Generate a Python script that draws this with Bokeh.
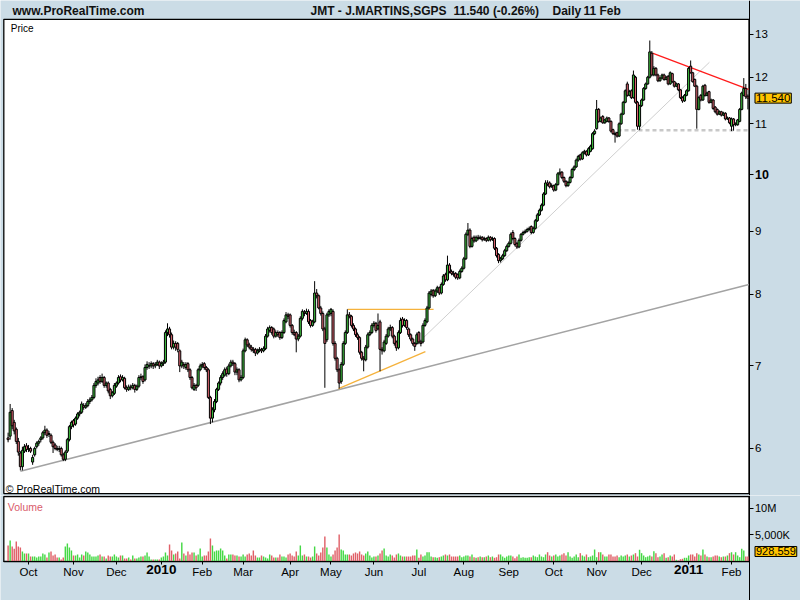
import pandas as pd
from bokeh.plotting import figure
from bokeh.layouts import column
from bokeh.models import Range1d, FixedTicker, Label, ColumnDataSource
from bokeh.embed import file_html
from bokeh.resources import INLINE

# ---------------- data (daily bars, JMT, 17 Sep 2009 .. 11 Feb 2011) ----------------
opens = [
6.12,6.14,6.44,6.30,6.22,6.08,5.95,5.80,5.97,6.03,
5.99,6.00,5.85,5.93,6.02,6.06,6.10,6.12,6.18,6.21,
6.16,6.15,6.07,6.04,6.00,5.99,6.00,5.93,5.88,5.97,
6.10,6.25,6.32,6.28,6.35,6.40,6.42,6.50,6.48,6.50,
6.55,6.57,6.60,6.75,6.78,6.85,6.80,6.85,6.75,6.78,
6.70,6.62,6.65,6.74,6.78,6.86,6.82,6.84,6.72,6.70,
6.73,6.72,6.75,6.70,6.74,6.85,6.86,6.82,6.98,7.00,
7.00,7.03,7.00,7.02,7.05,7.00,7.03,7.05,7.45,7.50,
7.42,7.25,7.30,7.30,7.20,7.00,7.02,6.98,7.03,6.95,
6.85,6.70,6.75,6.75,6.95,7.00,7.03,6.98,6.95,6.60,
6.35,6.45,6.55,6.70,6.78,6.85,6.88,6.96,6.90,7.00,
7.05,7.03,6.92,6.95,6.82,6.85,7.20,7.35,7.28,7.25,
7.22,7.22,7.17,7.20,7.22,7.20,7.23,7.40,7.48,7.52,
7.50,7.40,7.45,7.45,7.38,7.45,7.60,7.70,7.70,7.55,
7.45,7.45,7.36,7.40,7.65,7.74,7.72,7.75,7.62,7.55,
7.60,8.02,7.98,7.80,7.72,7.50,7.35,7.70,7.72,7.75,
7.30,7.10,6.95,6.80,7.02,7.30,7.45,7.70,7.68,7.55,
7.50,7.42,7.38,7.18,7.10,7.08,7.25,7.42,7.45,7.55,
7.58,7.50,7.60,7.22,7.20,7.30,7.40,7.50,7.52,7.40,
7.32,7.24,7.45,7.64,7.55,7.62,7.50,7.42,7.36,7.30,
7.30,7.45,7.32,7.32,7.55,7.60,7.80,8.00,8.06,7.98,
8.05,8.10,8.02,8.15,8.30,8.22,8.45,8.35,8.32,8.32,
8.30,8.25,8.35,8.40,8.55,8.95,9.02,8.75,8.90,8.84,
8.90,8.88,8.90,8.86,8.88,8.85,8.90,8.86,8.88,8.72,
8.62,8.52,8.55,8.60,8.68,8.75,8.80,8.98,8.88,8.80,
8.74,8.85,8.95,8.98,9.00,9.03,9.08,8.98,9.05,9.18,
9.28,9.36,9.45,9.65,9.85,9.85,9.78,9.80,9.72,9.82,
10.02,10.05,9.95,9.88,9.80,9.86,9.95,10.10,10.15,10.28,
10.38,10.30,10.42,10.45,10.38,10.45,10.50,10.80,10.90,11.30,
11.05,11.15,11.02,11.05,11.12,11.05,10.88,10.80,10.82,10.75,
11.00,11.20,11.45,11.85,11.60,11.70,11.55,12.00,11.45,10.95,
11.38,11.50,11.75,11.85,12.00,12.55,12.05,12.20,12.05,11.92,
11.98,12.05,11.95,12.02,11.85,12.08,11.90,11.80,11.85,11.72,
11.55,11.48,11.60,11.70,12.25,12.10,11.95,11.80,11.30,11.60,
11.50,11.82,11.60,11.68,11.45,11.50,11.35,11.30,11.20,11.25,
11.18,11.22,11.10,11.12,10.95,11.10,10.98,10.98,11.05,11.30,
11.60,11.75,11.58]

highs = [
6.18,6.52,6.47,6.33,6.24,6.12,5.97,6.02,6.05,6.06,
6.04,6.02,5.93,6.02,6.08,6.10,6.14,6.20,6.26,6.23,
6.20,6.17,6.09,6.06,6.03,6.03,6.02,5.95,5.98,6.12,
6.27,6.32,6.34,6.37,6.42,6.44,6.55,6.53,6.53,6.58,
6.60,6.63,6.78,6.84,6.86,6.88,6.90,6.87,6.80,6.80,
6.72,6.68,6.78,6.80,6.88,6.89,6.88,6.86,6.75,6.76,
6.76,6.78,6.77,6.76,6.88,6.90,6.88,7.02,7.06,7.05,
7.06,7.05,7.05,7.08,7.07,7.06,7.08,7.48,7.58,7.53,
7.45,7.34,7.33,7.32,7.22,7.08,7.05,7.05,7.05,6.97,
6.87,6.78,6.77,6.97,7.03,7.05,7.05,7.00,6.97,6.62,
6.48,6.58,6.72,6.80,6.88,6.93,6.98,6.99,7.03,7.08,
7.08,7.05,6.98,6.97,6.88,7.23,7.38,7.37,7.31,7.28,
7.25,7.24,7.23,7.25,7.24,7.26,7.43,7.53,7.55,7.54,
7.52,7.48,7.48,7.47,7.48,7.65,7.74,7.73,7.72,7.57,
7.49,7.47,7.43,7.68,7.78,7.77,7.79,7.78,7.64,7.63,
8.20,8.08,8.00,7.83,7.75,7.53,7.73,7.78,7.80,7.78,
7.33,7.12,6.97,7.05,7.33,7.48,7.78,7.74,7.70,7.58,
7.52,7.45,7.40,7.20,7.13,7.28,7.45,7.48,7.58,7.61,
7.60,7.72,7.63,7.25,7.35,7.43,7.53,7.56,7.54,7.42,
7.34,7.48,7.66,7.67,7.65,7.64,7.52,7.44,7.38,7.32,
7.45,7.47,7.35,7.58,7.65,7.83,8.05,8.08,8.08,8.08,
8.13,8.12,8.18,8.31,8.33,8.60,8.48,8.38,8.36,8.34,
8.32,8.38,8.43,8.58,8.98,9.14,9.05,8.91,8.93,8.93,
8.94,8.93,8.92,8.91,8.90,8.93,8.92,8.91,8.90,8.74,
8.64,8.58,8.63,8.71,8.78,8.83,8.98,9.02,8.90,8.82,
8.88,8.97,9.01,9.03,9.06,9.08,9.10,9.08,9.21,9.31,
9.39,9.48,9.68,9.90,9.90,9.88,9.84,9.82,9.85,10.05,
10.12,10.07,9.97,9.90,9.89,9.98,10.13,10.18,10.31,10.38,
10.40,10.45,10.48,10.47,10.53,10.58,10.83,10.89,11.50,11.33,
11.15,11.18,11.10,11.15,11.14,11.07,10.90,10.84,10.84,11.03,
11.23,11.48,11.73,11.90,11.72,11.73,12.15,12.03,11.48,11.40,
11.53,11.78,11.88,12.03,12.85,12.60,12.25,12.23,12.08,12.01,
12.08,12.08,12.03,12.05,12.13,12.10,11.92,11.88,11.87,11.74,
11.58,11.63,11.73,12.23,12.38,12.12,11.97,11.83,11.58,11.63,
11.83,11.85,11.68,11.70,11.53,11.52,11.37,11.32,11.28,11.27,
11.25,11.24,11.15,11.14,11.13,11.12,11.03,11.10,11.33,11.68,
11.98,11.85,11.62]

lows = [
6.07,6.10,6.22,6.16,6.05,5.92,5.76,5.76,5.95,5.96,
5.96,5.95,5.82,5.91,6.00,6.03,6.07,6.10,6.15,6.12,
6.13,6.05,5.95,5.98,5.97,5.96,5.91,5.86,5.86,5.95,
6.08,6.22,6.24,6.26,6.33,6.37,6.40,6.45,6.46,6.48,
6.52,6.55,6.58,6.72,6.75,6.77,6.78,6.72,6.72,6.65,
6.58,6.60,6.63,6.72,6.76,6.79,6.80,6.70,6.67,6.68,
6.69,6.70,6.66,6.68,6.72,6.82,6.77,6.80,6.95,6.96,
6.97,6.96,6.97,7.00,6.96,6.98,7.00,7.03,7.40,7.38,
7.22,7.22,7.20,7.18,6.92,6.97,6.96,6.95,6.92,6.82,
6.70,6.68,6.68,6.73,6.93,6.97,6.95,6.92,6.58,6.28,
6.30,6.42,6.53,6.68,6.75,6.82,6.86,6.86,6.88,6.98,
7.00,6.88,6.88,6.79,6.80,6.83,7.18,7.25,7.22,7.19,
7.17,7.13,7.15,7.18,7.17,7.18,7.21,7.38,7.45,7.42,
7.37,7.38,7.39,7.35,7.36,7.43,7.58,7.64,7.52,7.42,
7.40,7.18,7.33,7.38,7.62,7.68,7.70,7.57,7.52,7.53,
7.58,7.94,7.78,7.69,7.47,6.72,7.32,7.67,7.68,7.27,
7.07,6.92,6.71,6.77,7.00,7.28,7.43,7.65,7.52,7.47,
7.39,7.35,7.15,7.07,6.93,7.06,7.23,7.40,7.43,7.52,
7.45,7.48,6.93,7.15,7.18,7.28,7.38,7.47,7.37,7.27,
7.20,7.22,7.43,7.52,7.53,7.49,7.39,7.33,7.27,7.20,
7.28,7.29,7.26,7.30,7.53,7.58,7.78,7.97,7.95,7.96,
8.02,7.99,8.00,8.13,8.19,8.20,8.32,8.29,8.27,8.23,
8.22,8.23,8.33,8.38,8.53,8.92,8.72,8.73,8.81,8.82,
8.85,8.86,8.83,8.84,8.82,8.83,8.83,8.84,8.69,8.57,
8.48,8.49,8.53,8.58,8.66,8.73,8.78,8.85,8.75,8.71,
8.72,8.83,8.93,8.96,8.98,9.01,8.95,8.96,9.03,9.16,
9.26,9.34,9.43,9.63,9.79,9.75,9.76,9.69,9.70,9.80,
9.99,9.92,9.85,9.77,9.78,9.84,9.93,10.07,10.13,10.25,
10.27,10.28,10.39,10.35,10.36,10.43,10.48,10.77,10.88,11.02,
11.03,11.00,11.00,11.03,11.02,10.82,10.77,10.62,10.72,10.73,
10.98,11.18,11.43,11.57,11.58,11.52,11.53,11.42,10.88,10.87,
11.35,11.48,11.72,11.83,11.97,12.02,12.02,12.02,11.89,11.90,
11.95,11.92,11.93,11.82,11.83,11.87,11.77,11.78,11.69,11.52,
11.44,11.46,11.58,11.68,12.08,11.88,11.78,10.90,11.28,11.47,
11.48,11.57,11.58,11.42,11.43,11.29,11.22,11.17,11.18,11.15,
11.16,11.07,11.08,10.99,10.85,10.86,10.95,10.96,11.03,11.28,
11.58,11.52,11.30]

closes = [
6.10,6.42,6.26,6.20,6.08,5.96,5.80,5.98,6.02,5.99,
6.00,5.97,5.90,6.00,6.06,6.08,6.12,6.18,6.21,6.15,
6.17,6.07,6.02,6.00,5.99,6.00,5.93,5.88,5.96,6.10,
6.25,6.30,6.27,6.35,6.40,6.42,6.52,6.48,6.50,6.55,
6.57,6.60,6.75,6.80,6.82,6.80,6.85,6.75,6.78,6.68,
6.62,6.66,6.75,6.78,6.85,6.82,6.85,6.72,6.70,6.73,
6.72,6.75,6.70,6.74,6.85,6.86,6.80,6.98,7.02,7.00,
7.03,7.00,7.02,7.05,7.00,7.03,7.05,7.45,7.50,7.42,
7.25,7.30,7.25,7.22,7.00,7.05,7.00,7.02,6.95,6.85,
6.72,6.75,6.72,6.95,7.00,7.02,6.98,6.95,6.60,6.35,
6.45,6.55,6.70,6.78,6.85,6.90,6.95,6.90,7.00,7.05,
7.03,6.92,6.95,6.82,6.85,7.20,7.35,7.28,7.25,7.22,
7.20,7.17,7.20,7.22,7.20,7.23,7.40,7.50,7.52,7.45,
7.40,7.45,7.42,7.38,7.45,7.62,7.70,7.68,7.55,7.45,
7.42,7.36,7.40,7.65,7.75,7.72,7.75,7.60,7.55,7.60,
8.02,7.98,7.80,7.72,7.50,7.30,7.70,7.75,7.78,7.30,
7.10,6.95,6.78,7.02,7.30,7.45,7.70,7.68,7.55,7.50,
7.42,7.38,7.18,7.10,7.08,7.25,7.42,7.45,7.55,7.58,
7.48,7.55,7.22,7.20,7.32,7.40,7.50,7.52,7.40,7.30,
7.24,7.45,7.62,7.55,7.62,7.52,7.42,7.36,7.30,7.26,
7.42,7.32,7.30,7.55,7.62,7.80,8.02,8.05,7.98,8.05,
8.10,8.02,8.15,8.28,8.22,8.45,8.35,8.32,8.30,8.26,
8.25,8.35,8.40,8.55,8.95,9.02,8.75,8.88,8.84,8.90,
8.88,8.90,8.86,8.88,8.85,8.90,8.86,8.88,8.72,8.60,
8.52,8.55,8.60,8.68,8.75,8.80,8.95,8.88,8.78,8.74,
8.85,8.95,8.98,9.00,9.03,9.05,8.98,9.05,9.18,9.28,
9.36,9.45,9.65,9.85,9.82,9.78,9.80,9.72,9.82,10.02,
10.05,9.95,9.88,9.80,9.86,9.95,10.10,10.15,10.28,10.35,
10.30,10.42,10.45,10.38,10.50,10.55,10.80,10.85,11.30,11.05,
11.12,11.02,11.08,11.12,11.05,10.85,10.80,10.78,10.75,11.00,
11.20,11.45,11.70,11.60,11.68,11.55,12.05,11.45,10.95,11.38,
11.50,11.75,11.85,12.00,12.58,12.05,12.20,12.05,11.92,11.98,
12.05,11.95,12.00,11.85,12.10,11.90,11.80,11.85,11.72,11.55,
11.48,11.60,11.70,12.20,12.10,11.90,11.80,11.30,11.55,11.50,
11.80,11.60,11.65,11.45,11.50,11.32,11.25,11.20,11.25,11.18,
11.22,11.10,11.12,11.02,11.10,10.98,11.00,11.08,11.30,11.65,
11.75,11.57,11.54]

volumes_m = [
3.02,3.96,2.83,2.40,3.77,2.83,2.64,1.89,1.51,1.51,
1.51,0.94,0.94,0.94,0.75,0.94,0.94,1.51,1.32,0.75,
1.70,1.89,1.13,1.32,0.75,0.75,0.38,0.75,2.83,3.40,
2.64,2.08,1.13,1.13,1.32,0.75,1.32,1.13,1.89,1.70,
1.32,0.94,0.94,0.94,1.13,1.32,0.94,0.94,0.57,1.13,
0.94,0.94,1.32,0.94,0.75,1.13,1.13,0.57,0.57,0.75,
0.38,1.13,0.57,0.57,0.75,0.94,0.94,1.13,1.70,0.94,
0.38,0.38,0.38,0.38,0.38,0.75,0.94,1.70,1.13,3.21,
2.08,1.32,1.51,1.89,0.57,3.58,1.51,1.13,1.89,1.32,
1.70,1.70,1.13,1.32,2.45,0.94,1.13,1.13,1.89,4.34,
3.02,1.89,2.08,2.08,2.45,2.08,1.13,0.57,1.32,1.32,
1.32,1.13,1.13,0.94,0.94,1.32,0.94,1.32,1.51,1.13,
2.08,1.13,0.75,0.75,1.13,0.94,0.75,0.57,1.32,1.13,
0.75,0.75,0.75,1.32,0.94,0.94,0.75,1.32,1.51,1.13,
0.94,1.89,1.13,3.02,1.13,1.32,0.94,0.94,0.75,0.94,
2.83,1.51,1.13,1.70,2.64,4.72,2.64,1.32,0.94,1.32,
2.08,2.64,5.09,2.26,2.08,1.32,1.32,1.32,1.13,1.51,
1.70,1.51,1.89,1.32,1.13,1.51,1.89,1.13,0.75,0.94,
0.94,1.13,1.51,2.08,2.45,1.13,0.94,1.32,1.13,0.75,
1.32,1.51,1.13,
0.94,0.94,0.94,0.94,0.94,1.13,1.13,2.26,0.70,1.32,
0.94,1.13,1.75,1.75,0.94,0.81,0.81,0.70,0.81,0.94,
1.13,1.32,1.13,1.32,0.94,0.94,0.94,0.94,1.13,0.81,
0.94,1.13,1.13,0.94,1.32,0.81,0.70,0.81,0.94,0.81,
0.81,0.94,1.13,0.81,0.94,0.70,0.81,1.32,1.32,0.94,
0.70,0.94,1.13,1.13,0.94,0.62,0.94,1.32,0.70,0.81,
0.70,0.70,0.81,0.81,1.13,0.94,0.81,1.32,0.94,0.81,
1.32,1.75,1.13,0.94,1.13,1.32,0.94,1.13,1.32,1.57,
1.13,1.75,0.94,0.70,0.94,1.32,0.81,1.57,1.13,0.94,
1.32,0.81,0.94,1.13,2.26,0.81,1.75,1.75,1.32,0.94,
0.94,1.32,1.32,0.94,0.94,1.13,0.81,1.13,0.94,1.13,
1.32,0.94,1.13,1.32,1.57,0.94,2.21,1.57,1.13,0.81,
0.94,1.13,0.94,1.94,1.57,0.81,0.94,1.32,1.57,0.70,
0.81,1.13,0.94,1.32,0.32,0.19,0.43,0.51,0.70,0.70,
1.13,1.32,1.32,0.94,1.57,1.32,1.13,2.26,1.32,0.94,
0.81,0.81,0.94,1.13,1.13,0.94,0.81,0.94,0.94,1.13,
1.57,1.75,1.32,1.75,1.13,0.81,2.40,2.08,0.94,0.928559]

holidays = ["2009-12-25", "2010-01-01", "2010-04-02", "2010-04-05"]
last_day = "2011-02-11"

# drawn trend lines: (bar index, price) end points
support_x, support_y = [6.0, 362.5], [5.75, 8.15]
channel_x, channel_y = [203.3, 343.2], [7.38, 12.34]
rise_x, rise_y = [161.7, 204.2], [6.71, 7.19]
top_x, top_y = [166.1, 208.2], [7.78, 7.78]
resist_x, resist_y = [315.3, 362.3], [12.55, 11.73]
floor_x, floor_y = [298.2, 362.5], [10.87, 10.87]

price_ticks = [6, 7, 8, 9, 10, 11, 12, 13]
vol_ticks = [5, 10]
vol_tick_labels = {5: "5,000K", 10: "10M"}

# ---------------- geometry / styling ----------------
BG = "#cbdce6"
FONT = "Liberation Sans"
C_UP, C_DN = "#3dbb3d", "#d8636e"
V_UP, V_DN = "#45d845", "#e06068"

W, H_P, H_V = 800, 495, 105
X0, X1 = -3.72, 387.75        # full width of both canvases (bar index units)
PL, PR = -2.1, 362.55         # panel left / right edge
P_LO, P_HI = 5.516, 13.37     # price panel bottom / top
P_VIEW = (5.496, 13.847)      # price canvas (includes header strip)
V_HI = 12.26                  # volume panel top
V_VIEW = (-7.36, 12.45)       # volume canvas (includes date strip)

n = len(closes)
dates = pd.bdate_range(end=last_day, periods=n, freq="C", holidays=holidays)
idx = list(range(n))
up = [c >= o for o, c in zip(opens, closes)]

src = ColumnDataSource(dict(
    x=idx, h=highs, l=lows,
    top=[max(o, c) for o, c in zip(opens, closes)],
    bot=[min(o, c) for o, c in zip(opens, closes)],
    fill=[C_UP if u else C_DN for u in up],
    vol=volumes_m,
    vfill=[V_UP if u else V_DN for u in up],
))

month_idx, month_lab, year_marks = [], {}, []
for i in range(1, n):
    if dates[i].month != dates[i - 1].month:
        month_idx.append(i)
        if dates[i].month == 1:
            month_lab[i] = ""
            year_marks.append((i, str(dates[i].year)))
        else:
            month_lab[i] = dates[i].strftime("%b")

XR = Range1d(X0, X1)

common = dict(toolbar_location=None, output_backend="svg", title=None,
              min_border_left=0, min_border_right=0, min_border_top=0, min_border_bottom=0,
              background_fill_color=BG, border_fill_color=BG, outline_line_color=None)

# ---------------- price panel ----------------
p = figure(width=W, height=H_P, x_range=XR, y_range=Range1d(*P_VIEW),
           y_axis_type="log", x_axis_location=None, y_axis_location="right", **common)
p.grid.visible = False
p.quad(left=[PL], right=[PR], bottom=[P_LO], top=[P_HI], fill_color="white",
       line_color="black", line_width=1.3)

ya = p.yaxis[0]
ya.fixed_location = PR
ya.ticker = FixedTicker(ticks=price_ticks)
ya.major_label_overrides = {t: ("" if t == 10 else str(t)) for t in price_ticks}
ya.minor_tick_line_color = None
ya.major_tick_in = 0
ya.major_tick_out = 4
ya.major_label_standoff = 2
ya.axis_line_color = "black"
ya.major_label_text_font = FONT
ya.major_label_text_font_size = "11.5px"
ya.major_label_text_color = "black"

p.line(support_x, support_y, line_color="#a3a3a3", line_width=1.5)
p.line(channel_x, channel_y, line_color="#cfcfcf", line_width=1)
p.line(rise_x, rise_y, line_color="#f5b23c", line_width=1.3)
p.line(top_x, top_y, line_color="#f5b23c", line_width=1.3)
p.line(floor_x, floor_y, line_color="#c8c8c8", line_width=2.5, line_dash="4 3")
p.line(resist_x, resist_y, line_color="#ff1a1a", line_width=1.2)

p.segment(x0="x", y0="l", x1="x", y1="h", source=src, line_color="black", line_width=1)
p.vbar(x="x", width=1.0, top="top", bottom="bot", source=src,
       fill_color="fill", line_color="black", line_width=1)

hdr = dict(x_units="screen", y_units="screen", text_font=FONT, text_font_style="bold",
           text_font_size="12px", text_baseline="alphabetic", text_color="#111111")
chg = (closes[-1] / closes[-2] - 1) * 100
HY = H_P - 10
p.add_layout(Label(x=12, y=HY, text="www.ProRealTime.com", **hdr))
p.add_layout(Label(x=310, y=HY, text="JMT - J.MARTINS,SGPS", **hdr))
p.add_layout(Label(x=453, y=HY, text=f"{closes[-1]:.3f} ({chg:.2f}%)", **hdr))
p.add_layout(Label(x=552, y=HY, text="Daily", **hdr))
p.add_layout(Label(x=583, y=HY, text=dates[-1].strftime("%d %b").lstrip("0"), **hdr))

p.add_layout(Label(x=PL, x_offset=7, y=P_HI, y_offset=-9.5, text="Price",
                   text_font=FONT, text_font_size="10px", text_baseline="alphabetic",
                   text_color="black"))
p.add_layout(Label(x=PL, x_offset=2, y=P_LO, y_offset=5, text="\u00a9 ProRealTime.com",
                   text_font=FONT, text_font_size="10.5px", text_baseline="alphabetic",
                   text_color="black"))
p.add_layout(Label(x=PR, y=10, x_offset=6, text="10", text_font=FONT, text_font_style="bold",
                   text_font_size="12.5px", text_baseline="middle", text_align="left",
                   text_color="black"))
p.add_layout(Label(x=PR, y=closes[-1], x_offset=6, text=f"{closes[-1]:.3f}", text_font=FONT,
                   text_font_size="11.5px", text_baseline="middle", text_align="left",
                   text_color="black", background_fill_color="#ffc400",
                   border_line_color="black", padding=1))

# ---------------- volume panel ----------------
v = figure(width=W, height=H_V, x_range=XR, y_range=Range1d(*V_VIEW),
           y_axis_location="right", x_axis_location="below", **common)
v.grid.visible = False
v.quad(left=[PL], right=[PR], bottom=[0], top=[V_HI], fill_color="white",
       line_color="black", line_width=1.3)
v.vbar(x="x", width=0.7, top="vol", bottom=0, source=src, fill_color="vfill", line_color=None)

vy = v.yaxis[0]
vy.fixed_location = PR
vy.ticker = FixedTicker(ticks=vol_ticks)
vy.major_label_overrides = vol_tick_labels
vy.minor_tick_line_color = None
vy.major_tick_in = 0
vy.major_tick_out = 4
vy.major_label_standoff = 2
vy.major_label_text_font = FONT
vy.major_label_text_font_size = "11px"
vy.major_label_text_color = "black"
vy.axis_line_color = "black"

vx = v.xaxis[0]
vx.fixed_location = 0
vx.bounds = (PL, PR)
vx.ticker = FixedTicker(ticks=month_idx)
vx.major_label_overrides = month_lab
vx.minor_tick_line_color = None
vx.major_tick_in = 0
vx.major_tick_out = 3
vx.major_label_standoff = 2
vx.major_label_text_font = FONT
vx.major_label_text_font_size = "11.5px"
vx.major_label_text_color = "black"
vx.axis_line_color = "black"

for i, yr in year_marks:
    v.add_layout(Label(x=i, y=0, y_offset=-4, text=yr, text_font=FONT, text_font_style="bold",
                       text_font_size="13.5px", text_align="center", text_baseline="top",
                       text_color="black"))

v.add_layout(Label(x=PL, x_offset=4, y=V_HI, y_offset=-10, text="Volume", text_font=FONT,
                   text_font_size="10.5px", text_baseline="alphabetic", text_color="#d95b6a"))
v.add_layout(Label(x=PR, x_offset=6, y=0, y_offset=10, text=f"{round(volumes_m[-1] * 1e6):,}",
                   text_font=FONT, text_font_size="11px", text_baseline="middle", text_align="left",
                   text_color="black", background_fill_color="#ffc400", border_line_color="black",
                   padding=1))

layout = column(p, v, spacing=0)
open("out.html", "w").write(file_html(layout, INLINE))
